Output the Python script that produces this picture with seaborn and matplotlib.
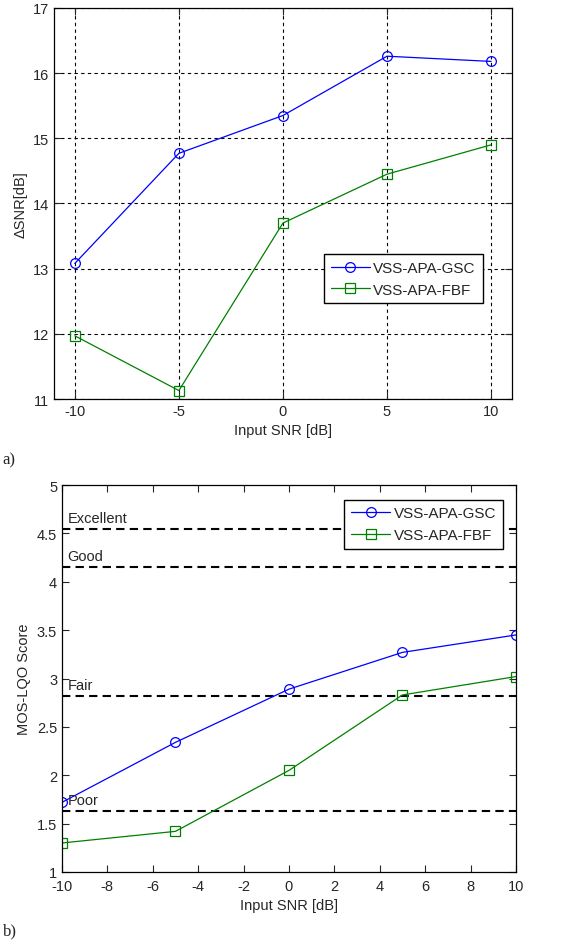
import seaborn as sns
import matplotlib
matplotlib.use("Agg")
import matplotlib.pyplot as plt
import pandas as pd

sns.set_style("ticks")
plt.rcParams['font.family'] = ['Liberation Sans', 'DejaVu Sans']
plt.rcParams['axes.unicode_minus'] = False

# data
snr = [-10, -5, 0, 5, 10]
delta_snr_gsc = [13.08, 14.77, 15.35, 16.26, 16.18]
delta_snr_fbf = [11.97, 11.13, 13.70, 14.45, 14.90]
mos_gsc = [1.72, 2.34, 2.89, 3.27, 3.45]
mos_fbf = [1.30, 1.42, 2.05, 2.83, 3.02]
quality_names = ["Excellent", "Good", "Fair", "Poor"]
quality_levels = [4.55, 4.15, 2.82, 1.63]
series_names = ["VSS-APA-GSC", "VSS-APA-FBF"]

BLUE = "#0000ff"
GREEN = "#008000"

df_a = pd.DataFrame({"snr": snr * 2,
                     "value": delta_snr_gsc + delta_snr_fbf,
                     "method": [series_names[0]] * 5 + [series_names[1]] * 5})
df_b = pd.DataFrame({"snr": snr * 2,
                     "value": mos_gsc + mos_fbf,
                     "method": [series_names[0]] * 5 + [series_names[1]] * 5})


def draw_lines(ax, df):
    for name, color, marker in zip(series_names, [BLUE, GREEN], ["o", "s"]):
        d = df[df["method"] == name]
        sns.lineplot(data=d, x="snr", y="value", ax=ax, color=color, linewidth=0.9,
                     marker=marker, markersize=7, markerfacecolor="none",
                     markeredgecolor=color, markeredgewidth=0.9, label=name)


def matlab_axes(ax):
    for s in ax.spines.values():
        s.set_visible(True)
        s.set_color("black")
        s.set_linewidth(0.9)
    ax.tick_params(direction="in", top=True, right=True, labelsize=10.5, length=5, width=0.8)


fig = plt.figure(figsize=(5.66, 9.45), dpi=100)

# a) delta SNR
ax1 = fig.add_axes([0.0954, 0.5767, 0.809, 0.4138])
draw_lines(ax1, df_a)
ax1.set_xlim(-11, 11)
ax1.set_ylim(11, 17)
ax1.set_xticks(snr)
ax1.set_yticks(range(11, 18))
ax1.grid(True, color="black", linestyle=(0, (3, 3)), linewidth=0.8)
matlab_axes(ax1)
ax1.set_xlabel("Input SNR [dB]", fontsize=10.5)
ax1.set_ylabel("ΔSNR[dB]", fontsize=10.5, labelpad=4)
leg1 = ax1.legend(loc="lower right", bbox_to_anchor=(0.953, 0.225), fontsize=11,
                  frameon=True, fancybox=False, edgecolor="black", framealpha=1,
                  handlelength=2.6, borderpad=0.45, labelspacing=0.5, handletextpad=0.2)
leg1.get_frame().set_linewidth(1.0)

# b) MOS-LQO
ax2 = fig.add_axes([0.1095, 0.0762, 0.802, 0.4095])
for name, lvl in zip(quality_names, quality_levels):
    ax2.axhline(lvl, color="black", linestyle=(0, (4, 2.5)), linewidth=1.5, zorder=1)
    ax2.text(-9.75, lvl + 0.04, name, fontsize=10.5, va="bottom", ha="left")
draw_lines(ax2, df_b)
ax2.set_xlim(-10, 10)
ax2.set_ylim(1, 5)
ax2.set_xticks(range(-10, 11, 2))
ax2.set_yticks([1, 1.5, 2, 2.5, 3, 3.5, 4, 4.5, 5])
ax2.set_yticklabels(["1", "1.5", "2", "2.5", "3", "3.5", "4", "4.5", "5"])
matlab_axes(ax2)
ax2.tick_params(axis="x", pad=5)
ax2.set_xlabel("Input SNR [dB]", fontsize=10.5)
ax2.set_ylabel("MOS-LQO Score", fontsize=10.5, labelpad=4)
leg2 = ax2.legend(loc="upper right", bbox_to_anchor=(0.988, 0.982), fontsize=11,
                  frameon=True, fancybox=False, edgecolor="black", framealpha=1,
                  handlelength=2.6, borderpad=0.45, labelspacing=0.5, handletextpad=0.2)
leg2.get_frame().set_linewidth(1.0)

fig.text(0.005, 0.513, "a)", fontsize=12, family="Liberation Serif", va="center")
fig.text(0.005, 0.014, "b)", fontsize=12, family="Liberation Serif", va="center")

fig.savefig("out.png", dpi=100)
